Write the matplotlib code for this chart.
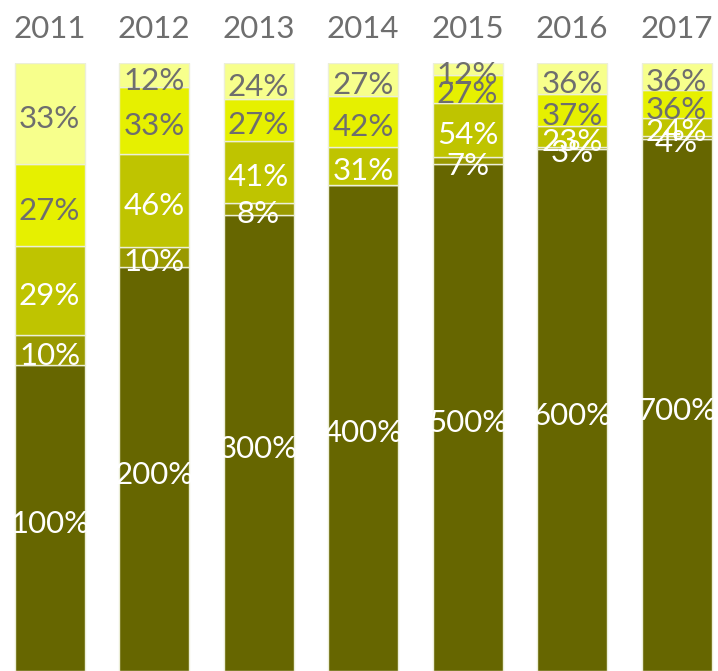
import matplotlib.pyplot as plt
import numpy as np

# ========= Data =========
YEARS = ["2011", "2012", "2013", "2014", "2015", "2016", "2017"]
SERIES_1 = [100, 200, 300, 400, 500, 600, 700]
SERIES_2 = [10, 10, 8, 0, 7, 3, 4]
SERIES_3 = [29, 46, 41, 31, 54, 23, 24]
SERIES_4 = [27, 33, 27, 42, 27, 37, 36]
SERIES_5 = [33, 12, 24, 27, 12, 36, 36]

COLORS = ["#666600", "#999900", "#bfc400", "#e6f000", "#f7ff8c"]
TEXT_COLORS = ["white", "white", "white", "#6e6e6e", "#6e6e6e"]

plt.rcParams["font.family"] = ["Lato", "DejaVu Sans"]

fig = plt.figure(figsize=(7.18, 6.71), dpi=100)
ax = fig.add_axes([0, 0, 1, 608 / 671])

series = np.array([SERIES_1, SERIES_2, SERIES_3, SERIES_4, SERIES_5], dtype=float)
totals = series.sum(axis=0)
shares = series / totals
x = np.arange(len(YEARS))
width = 0.67

# Nudge segment labels slightly below the segment centre
label_shift = 3 / 608

bottom = np.zeros(len(YEARS))
for i, vals in enumerate(shares):
    ax.bar(x, vals, width, bottom=bottom, color=COLORS[i],
           edgecolor="#ecefd8", linewidth=1.0)
    for j, v in enumerate(vals):
        if series[i, j] <= 0:
            continue
        ax.text(x[j], bottom[j] + v / 2 - label_shift, f"{int(series[i, j])}%",
                ha="center", va="center_baseline", fontsize=22.5,
                color=TEXT_COLORS[i])
    bottom += vals

for j, yr in enumerate(YEARS):
    ax.text(x[j], 1.0 + 37 / 608, yr, ha="center", va="center_baseline",
            fontsize=22.5, color="#6e6e6e", clip_on=False)

ax.set_xlim(-0.474, 6.397)
ax.set_ylim(0, 1)
ax.axis("off")

fig.savefig("out.png", dpi=100)
